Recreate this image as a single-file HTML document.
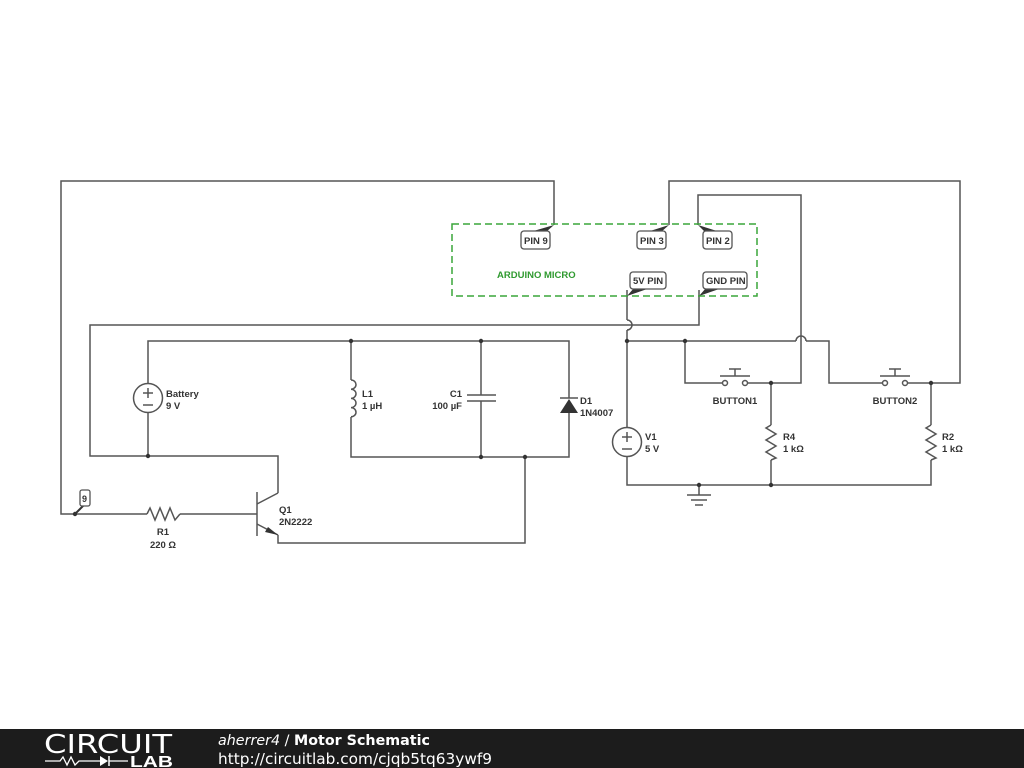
<!DOCTYPE html>
<html><head><meta charset="utf-8"><style>
html,body{margin:0;padding:0;background:#fff;width:1024px;height:768px;overflow:hidden}
svg{display:block}
text{font-family:"Liberation Sans",Arial,sans-serif;font-size:9.5px;fill:#333;font-weight:bold}
</style></head><body>
<svg width="1024" height="768" viewBox="0 0 1024 768" xmlns="http://www.w3.org/2000/svg">
<g fill="none" stroke="#555" stroke-width="1.5">
<polyline points="554,225 554,181 61,181 61,514 147,514"/>
<polyline points="180,514 257,514"/>
<polyline points="147,514 150,508 155,520 160,508 165,520 170,508 175,520 180,514"/>
<polyline points="699,290 699,325 90,325 90,456 278,456 278,493"/>
<line x1="257" y1="492" x2="257" y2="536"/>
<line x1="257" y1="504" x2="278" y2="493"/>
<line x1="257" y1="524" x2="278" y2="535"/>
<polyline points="278,535 278,543 525,543 525,456"/>
<polyline points="148,384 148,341 569,341 569,398"/>
<line x1="148" y1="413" x2="148" y2="456"/>
<circle cx="148" cy="398" r="14.5"/>
<line x1="143" y1="393" x2="153" y2="393"/><line x1="148" y1="388" x2="148" y2="398"/>
<line x1="143" y1="405" x2="153" y2="405"/>
<line x1="351" y1="341" x2="351" y2="380"/>
<path d="M351,380 a5,4.6 0 1 1 0,9.2 a5,4.6 0 1 1 0,9.2 a5,4.6 0 1 1 0,9.2 a5,4.6 0 1 1 0,9.2"/>
<polyline points="351,417 351,457 569,457 569,413"/>
<line x1="481" y1="341" x2="481" y2="395"/>
<line x1="481" y1="401" x2="481" y2="457"/>
<line x1="467" y1="395" x2="496" y2="395"/>
<line x1="467" y1="401" x2="496" y2="401"/>
<line x1="560" y1="398" x2="578" y2="398"/>
<polyline points="627,290 627,320"/>
<path d="M627,320 A5,5 0 0 1 627,330"/>
<polyline points="627,330 627,428"/>
<circle cx="627" cy="442" r="14.5"/>
<line x1="622" y1="437" x2="632" y2="437"/><line x1="627" y1="432" x2="627" y2="442"/>
<line x1="622" y1="449" x2="632" y2="449"/>
<polyline points="627,456 627,485 931,485 931,460"/>
<polyline points="627,341 796,341"/>
<path d="M796,341 A5,5 0 0 1 806,341"/>
<polyline points="806,341 829,341 829,383 882,383"/>
<polyline points="685,341 685,383 722,383"/>
<polyline points="748,383 801,383 801,195 698,195 698,225"/>
<polyline points="771,383 771,425"/>
<polyline points="771,460 771,485"/>
<polyline points="771,425 766,428 776,434 766,440 776,446 766,452 776,458 771,460"/>
<polyline points="908,383 960,383 960,181 669,181 669,225"/>
<polyline points="931,383 931,425"/>
<polyline points="931,425 926,428 936,434 926,440 936,446 926,452 936,458 931,460"/>
<circle cx="725" cy="383" r="2.5"/><circle cx="745" cy="383" r="2.5"/>
<line x1="720" y1="376" x2="750" y2="376"/><line x1="735" y1="376" x2="735" y2="369"/><line x1="729" y1="369" x2="741" y2="369"/>
<circle cx="885" cy="383" r="2.5"/><circle cx="905" cy="383" r="2.5"/>
<line x1="880" y1="376" x2="910" y2="376"/><line x1="895" y1="376" x2="895" y2="369"/><line x1="889" y1="369" x2="901" y2="369"/>
<line x1="699" y1="485" x2="699" y2="495"/>
<line x1="687" y1="495" x2="711" y2="495"/>
<line x1="691" y1="500" x2="707" y2="500"/>
<line x1="695" y1="505" x2="703" y2="505"/>
</g>
<g fill="#333">
<polygon points="569,399 560,413 578,413"/>
<polygon points="278,535 268,527 265,532"/>
<circle cx="351" cy="341" r="2.2"/><circle cx="481" cy="341" r="2.2"/>
<circle cx="481" cy="457" r="2.2"/><circle cx="525" cy="457" r="2.2"/>
<circle cx="148" cy="456" r="2.2"/><circle cx="75" cy="514" r="2.2"/>
<circle cx="627" cy="341" r="2.2"/><circle cx="685" cy="341" r="2.2"/>
<circle cx="771" cy="383" r="2.2"/><circle cx="931" cy="383" r="2.2"/>
<circle cx="699" cy="485" r="2.2"/><circle cx="771" cy="485" r="2.2"/>
<polygon points="554,225 546,232 530,232"/>
<polygon points="669,225 661,232 647,232"/>
<polygon points="698,225 705,232 720,232"/>
<polygon points="627,296 634,288 650,288"/>
<polygon points="699,296 706,288 722,288"/>
</g>
<line x1="75" y1="514" x2="84" y2="505" stroke="#333" stroke-width="2"/>
<rect x="452" y="224" width="305" height="72" fill="none" stroke="#3aa63a" stroke-width="1.5" stroke-dasharray="7,4"/>
<text x="497" y="278" style="fill:#2f9a2f">ARDUINO MICRO</text>
<g fill="#fff" stroke="#555" stroke-width="1.3">
<rect x="521" y="231" width="29" height="18" rx="3"/>
<rect x="637" y="231" width="29" height="18" rx="3"/>
<rect x="703" y="231" width="29" height="18" rx="3"/>
<rect x="630" y="272" width="36" height="17" rx="3"/>
<rect x="703" y="272" width="44" height="17" rx="3"/>
<rect x="80" y="490" width="10" height="16" rx="2"/>
</g>
<text x="524" y="244">PIN 9</text>
<text x="640" y="244">PIN 3</text>
<text x="706" y="244">PIN 2</text>
<text x="633" y="284">5V PIN</text>
<text x="706" y="284">GND PIN</text>
<text x="82" y="502" style="font-size:9px">9</text>
<text x="166" y="397">Battery</text><text x="166" y="409">9 V</text>
<text x="362" y="397">L1</text><text x="362" y="409">1 µH</text>
<text x="462" y="397" text-anchor="end">C1</text><text x="462" y="409" text-anchor="end">100 µF</text>
<text x="580" y="404">D1</text><text x="580" y="416">1N4007</text>
<text x="279" y="513">Q1</text><text x="279" y="525">2N2222</text>
<text x="163" y="535" text-anchor="middle">R1</text><text x="163" y="548" text-anchor="middle">220 Ω</text>
<text x="645" y="440">V1</text><text x="645" y="452">5 V</text>
<text x="783" y="440">R4</text><text x="783" y="452">1 kΩ</text>
<text x="942" y="440">R2</text><text x="942" y="452">1 kΩ</text>
<text x="735" y="404" text-anchor="middle">BUTTON1</text>
<text x="895" y="404" text-anchor="middle">BUTTON2</text>
<rect x="0" y="729" width="1024" height="39" fill="#1c1c1c"/>
<text x="44" y="753" textLength="128" lengthAdjust="spacingAndGlyphs" style="fill:#fff;font-weight:normal;font-size:26px;font-family:'DejaVu Sans',sans-serif">CIRCUIT</text>
<polyline points="45,761 60,761 63,757 67,765 71,757 75,765 79,761 100,761" fill="none" stroke="#fff" stroke-width="1.3"/>
<polygon points="100,756 100,766 108,761" fill="#fff"/>
<line x1="109" y1="756" x2="109" y2="766" stroke="#fff" stroke-width="1.5"/>
<line x1="109" y1="761" x2="128" y2="761" stroke="#fff" stroke-width="1.3"/>
<text x="130" y="767" textLength="43" lengthAdjust="spacingAndGlyphs" style="fill:#fff;font-size:16px;font-weight:bold;font-family:'Liberation Sans',sans-serif">LAB</text>
<text x="218" y="745" textLength="212" lengthAdjust="spacingAndGlyphs" style="fill:#fff;font-weight:normal;font-size:14.5px;font-family:'DejaVu Sans',sans-serif"><tspan font-style="italic">aherrer4</tspan> / <tspan font-weight="bold">Motor Schematic</tspan></text>
<text x="218" y="764" textLength="274" lengthAdjust="spacingAndGlyphs" style="fill:#fff;font-weight:normal;font-size:15.5px;font-family:'DejaVu Sans',sans-serif">http://circuitlab.com/cjqb5tq63ywf9</text>
</svg>
</body></html>
